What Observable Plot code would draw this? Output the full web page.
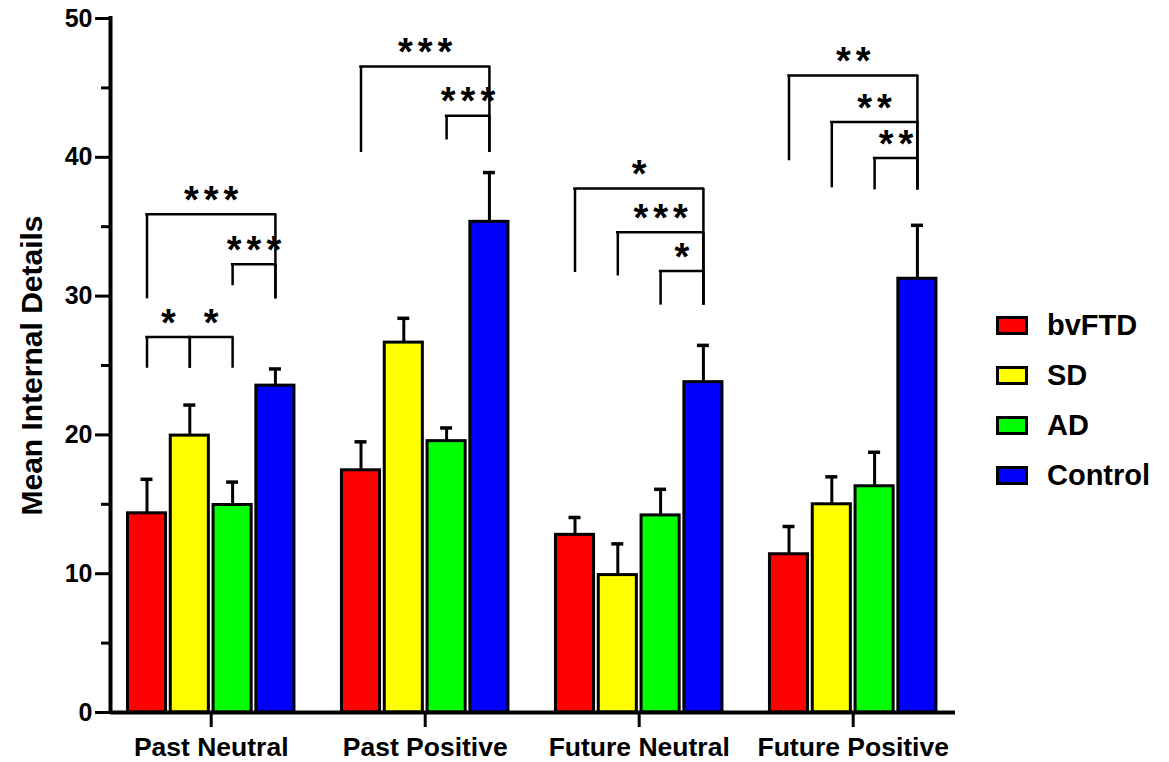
<!DOCTYPE html>
<html><head><meta charset="utf-8">
<script src="https://cdn.jsdelivr.net/npm/d3@7"></script>
<script src="https://cdn.jsdelivr.net/npm/@observablehq/plot@0.6"></script>
<style>
body{margin:0;background:#fff;font-family:"Liberation Sans",Arial,Helvetica,sans-serif;}
#wrap{position:relative;width:1169px;height:762px;overflow:hidden;}
#legend{position:absolute;left:996px;top:300px;}
.item{display:flex;align-items:center;height:50px;font-weight:bold;font-size:29px;color:#000;}
.sw{width:26px;height:13px;border:3px solid #000;margin-right:19px;box-sizing:content-box;}
</style></head><body>
<div id="wrap"><div id="chart"></div><div id="legend"></div></div>
<script>
// ---- data ----
const categories = ["Past Neutral", "Past Positive", "Future Neutral", "Future Positive"];
const groups = ["bvFTD", "SD", "AD", "Control"];
const colors = ["#ff0000", "#ffff00", "#00ff00", "#0000ff"];

const bvFTD   = [14.35, 17.45, 12.8, 11.4];
const SD      = [19.95, 26.65, 9.9, 15.0];
const AD      = [14.95, 19.55, 14.2, 16.3];
const Control = [23.55, 35.35, 23.8, 31.25];

const bvFTD_sem   = [2.45, 2.05, 1.25, 2.0];
const SD_sem      = [2.2, 1.75, 2.25, 1.98];
const AD_sem      = [1.65, 0.95, 1.88, 2.45];
const Control_sem = [1.2, 3.55, 2.65, 3.85];

const yTicks = [0, 10, 20, 30, 40, 50];
const yMinorTicks = [5, 15, 25, 35, 45];
const yLabel = "Mean Internal Details";

// significance brackets: category, groups compared, bracket level, leg bottoms, label
const comparisons = [
  {category: "Past Neutral", a: "bvFTD", b: "Control", level: 35.9, aLow: 29.8, bLow: 29.8, label: "***"},
  {category: "Past Neutral", a: "AD", b: "Control", level: 32.3, aLow: 30.75, bLow: 29.8, label: "***"},
  {category: "Past Neutral", a: "bvFTD", b: "SD", level: 27.05, aLow: 24.8, bLow: 24.8, label: "*"},
  {category: "Past Neutral", a: "SD", b: "AD", level: 27.05, aLow: 24.8, bLow: 24.8, label: "*"},
  {category: "Past Positive", a: "bvFTD", b: "Control", level: 46.55, aLow: 40.35, bLow: 40.35, label: "***"},
  {category: "Past Positive", a: "AD", b: "Control", level: 43.0, aLow: 41.25, bLow: 40.35, label: "***"},
  {category: "Future Neutral", a: "bvFTD", b: "Control", level: 37.75, aLow: 31.7, bLow: 29.35, label: "*"},
  {category: "Future Neutral", a: "SD", b: "Control", level: 34.6, aLow: 31.45, bLow: 29.35, label: "***"},
  {category: "Future Neutral", a: "AD", b: "Control", level: 31.8, aLow: 29.35, bLow: 29.35, label: "*"},
  {category: "Future Positive", a: "bvFTD", b: "Control", level: 45.9, aLow: 39.75, bLow: 37.65, label: "**"},
  {category: "Future Positive", a: "SD", b: "Control", level: 42.55, aLow: 37.8, bLow: 37.65, label: "**"},
  {category: "Future Positive", a: "AD", b: "Control", level: 39.95, aLow: 37.65, bLow: 37.65, label: "**"}
];

// ---- build table ----
const means = [bvFTD, SD, AD, Control];
const sems = [bvFTD_sem, SD_sem, AD_sem, Control_sem];
const slot = groups.length + 1; // one empty slot between categories
const pos = (ci, gi) => ci * slot + gi;
const rows = [];
categories.forEach((c, ci) => groups.forEach((g, gi) => rows.push({
  category: c, group: g, x: pos(ci, gi), mean: means[gi][ci], top: means[gi][ci] + sems[gi][ci]
})));
const bracketRows = comparisons.map(c => {
  const ci = categories.indexOf(c.category);
  const xa = pos(ci, groups.indexOf(c.a)), xb = pos(ci, groups.indexOf(c.b));
  return {...c, xa, xb, xm: (xa + xb) / 2};
});
const categoryTicks = categories.map((c, ci) => pos(ci, (groups.length - 1) / 2));
const tickLabel = new Map(categoryTicks.map((t, i) => [t, categories[i]]));
const xDomain = [-0.853, pos(categories.length - 1, groups.length - 1) + 0.89];

const font = '"Liberation Sans", Arial, Helvetica, sans-serif';
const chart = Plot.plot({
  width: 1169, height: 762,
  marginLeft: 110, marginRight: 214, marginTop: 18, marginBottom: 50,
  style: {fontFamily: font, color: "black", background: "white"},
  x: {domain: xDomain},
  y: {domain: [0, 50]},
  color: {domain: groups, range: colors},
  marks: [
    Plot.ruleX(rows, {x: "x", y1: "mean", y2: "top", strokeWidth: 3}),
    Plot.ruleY(rows, {y: "top", x1: d => d.x - 0.14, x2: d => d.x + 0.14, strokeWidth: 3.5}),
    Plot.rectY(rows, {x1: d => d.x - 0.445, x2: d => d.x + 0.445, y1: 0, y2: "mean", fill: "group", stroke: "black", strokeWidth: 3}),
    Plot.ruleY(bracketRows, {y: "level", x1: "xa", x2: "xb", strokeWidth: 2.5, strokeLinecap: "square"}),
    Plot.ruleX(bracketRows, {x: "xa", y1: "aLow", y2: "level", strokeWidth: 2.5}),
    Plot.ruleX(bracketRows, {x: "xb", y1: "bLow", y2: "level", strokeWidth: 2.5}),
    Plot.text(bracketRows, {x: "xm", y: "level", text: "label", dy: -13.5, dx: 2.5, fontSize: 38, fontWeight: "bold"}),
    Plot.axisY({ticks: yTicks, tickSize: 15, tickPadding: 3, fontSize: 25, fontWeight: "bold", strokeWidth: 3, label: null}),
    Plot.axisY({ticks: yMinorTicks, tickSize: 9, tickFormat: () => "", strokeWidth: 3, label: null}),
    Plot.axisX({ticks: categoryTicks, tickFormat: d => tickLabel.get(d), tickSize: 15, tickPadding: 10, fontSize: 26.5, fontWeight: "bold", strokeWidth: 3, label: null}),
    Plot.ruleY([0], {strokeWidth: 4}),
    Plot.ruleX([xDomain[0]], {y1: 0, y2: 50, strokeWidth: 4, strokeLinecap: "square"}),
    Plot.text([yLabel], {frameAnchor: "left", textAnchor: "middle", rotate: -90, dx: -78, fontSize: 30, fontWeight: "bold"})
  ]
});
chart.querySelectorAll("text").forEach(t => {
  if (/^\*+$/.test(t.textContent)) t.setAttribute("letter-spacing", "5px");
});
document.getElementById("chart").appendChild(chart);

const legend = document.getElementById("legend");
groups.forEach((g, i) => {
  const item = document.createElement("div");
  item.className = "item";
  const sw = document.createElement("span");
  sw.className = "sw";
  sw.style.background = colors[i];
  const label = document.createElement("span");
  label.textContent = g;
  item.appendChild(sw); item.appendChild(label);
  legend.appendChild(item);
});
</script>
</body></html>
